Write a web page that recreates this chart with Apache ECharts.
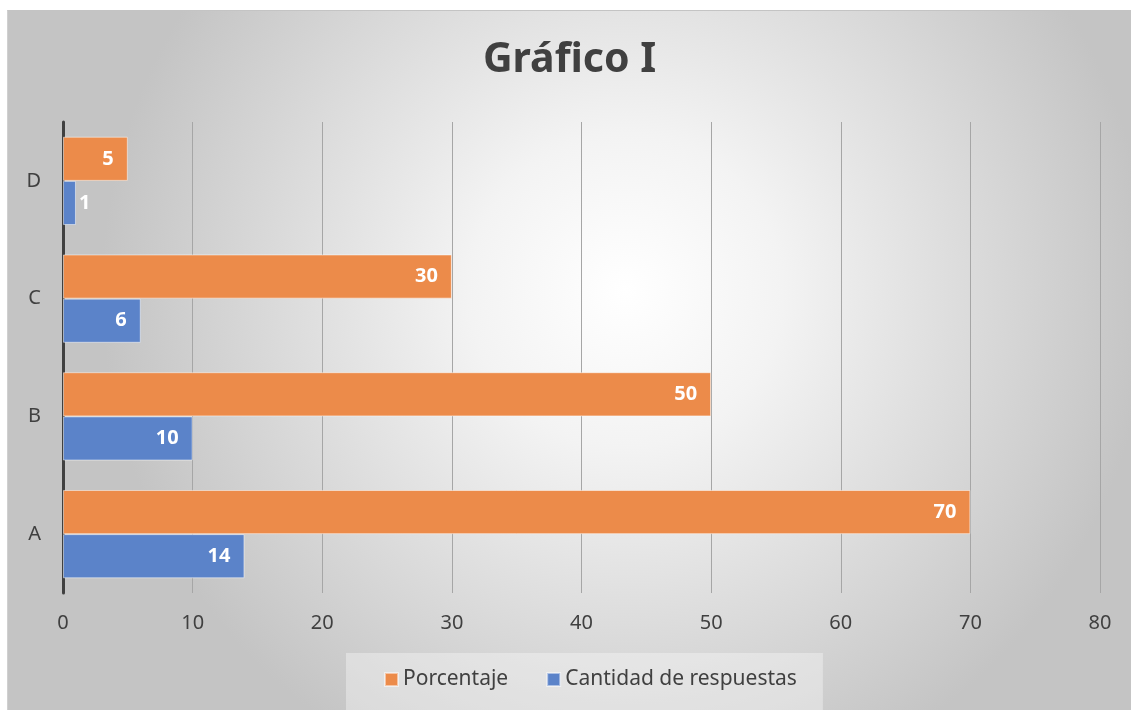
<!DOCTYPE html>
<html>
<head>
<meta charset="utf-8">
<script src="https://cdn.jsdelivr.net/npm/echarts@6/dist/echarts.min.js"></script>
<style>
    html, body { margin: 0; padding: 0; background: #fff; }
    /* marco del gráfico */
    #chart {
        position: absolute;
        left: 7px;
        top: 10px;
        width: 1124px;
        height: 700px;
        border-top: 1px solid #c4c4c4;
        border-left: 1px solid #d0d0d0;
        box-sizing: border-box;
    }
</style>
</head>
<body>
<div id="chart"></div>
<script>
    // datos
    var categorias = ['A', 'B', 'C', 'D'];
    var porcentaje = [70, 50, 30, 5];
    var cantidad = [14, 10, 6, 1];
    var ticksX = [0, 10, 20, 30, 40, 50, 60, 70, 80];

    var fuente = '"Noto Sans", "Open Sans", sans-serif';

    var myChart = echarts.init(document.getElementById('chart'));

    // etiqueta fuera de la barra si no cabe
    function etiquetas(arr) {
        return arr.map(function (v) {
            return v < 3 ? { value: v, label: { position: 'right', distance: 3 } } : v;
        });
    }

    var etiqueta = {
        show: true, position: 'insideRight', distance: 14,
        color: '#fff', fontWeight: 'bold', fontSize: 20
    };

    var option = {
        backgroundColor: {
            type: 'radial', x: 0.55, y: 0.4, r: 0.75,
            colorStops: [
                { offset: 0, color: '#ffffff' },
                { offset: 0.3, color: '#f3f3f3' },
                { offset: 1, color: '#c4c4c4' }
            ]
        },
        textStyle: { fontFamily: fuente },
        title: {
            text: 'Gráfico I',
            left: 'center',
            top: 24,
            textStyle: { fontSize: 41, fontWeight: 'bold', color: '#404040', fontFamily: fuente }
        },
        legend: {
            bottom: 0,
            left: 338,
            icon: 'rect',
            itemWidth: 13,
            itemHeight: 13,
            itemGap: 38,
            padding: [16, 26, 20, 38],
            backgroundColor: 'rgba(255,255,255,0.35)',
            textStyle: { fontSize: 21, color: '#404040', fontFamily: fuente },
            data: ['Porcentaje', 'Cantidad de respuestas']
        },
        grid: { left: 55, right: 31, top: 111, bottom: 117, containLabel: false },
        xAxis: {
            type: 'value',
            min: ticksX[0],
            max: ticksX[ticksX.length - 1],
            interval: 10,
            axisLine: { show: false },
            axisTick: { show: false },
            axisLabel: { fontSize: 20, color: '#404040', margin: 20 },
            splitLine: { lineStyle: { color: '#a6a6a6', width: 1 } }
        },
        yAxis: {
            type: 'category',
            data: categorias,
            axisLine: { lineStyle: { color: '#404040', width: 3 } },
            axisTick: { show: false },
            axisLabel: { fontSize: 20, color: '#404040', margin: 22 }
        },
        series: [
            {
                name: 'Porcentaje',
                type: 'bar',
                barGap: '0%',
                barCategoryGap: '25%',
                itemStyle: { color: '#ec8b4a', borderColor: 'rgba(255,255,255,0.5)', borderWidth: 1 },
                label: etiqueta,
                data: etiquetas(porcentaje),
                z: 2
            },
            {
                name: 'Cantidad de respuestas',
                type: 'bar',
                barGap: '0%',
                barCategoryGap: '25%',
                itemStyle: { color: '#5b83c9', borderColor: 'rgba(255,255,255,0.5)', borderWidth: 1 },
                label: etiqueta,
                data: etiquetas(cantidad),
                z: 2
            }
        ]
    };
    myChart.setOption(option);
</script>
</body>
</html>
